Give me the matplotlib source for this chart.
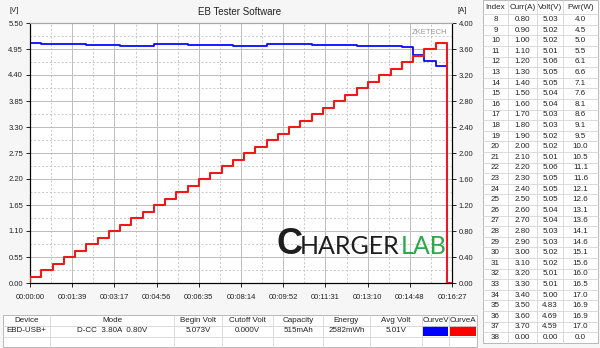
import numpy as np
import matplotlib.pyplot as plt
from matplotlib.lines import Line2D
from matplotlib.patches import Rectangle

plt.rcParams['font.family'] = ['Liberation Sans', 'DejaVu Sans']

# one value per load step (index 1..38)
current_a = [0.10, 0.20, 0.30, 0.40, 0.50, 0.60, 0.70, 0.80, 0.90, 1.00,
             1.10, 1.20, 1.30, 1.40, 1.50, 1.60, 1.70, 1.80, 1.90, 2.00,
             2.10, 2.20, 2.30, 2.40, 2.50, 2.60, 2.70, 2.80, 2.90, 3.00,
             3.10, 3.20, 3.30, 3.40, 3.50, 3.60, 3.70, 0.00]
voltage_v = [5.07, 5.06, 5.06, 5.05, 5.05, 5.04, 5.04, 5.03, 5.02, 5.02,
             5.01, 5.06, 5.05, 5.05, 5.04, 5.04, 5.03, 5.03, 5.02, 5.02,
             5.01, 5.06, 5.05, 5.05, 5.05, 5.04, 5.04, 5.03, 5.03, 5.02,
             5.02, 5.01, 5.01, 5.00, 4.83, 4.69, 4.59, 0.00]
# power column shown in the side table (index 8..38)
power_w = [4.0, 4.5, 5.0, 5.5, 6.1, 6.6, 7.1, 7.6, 8.1, 8.6, 9.1, 9.5, 10.0,
           10.5, 11.1, 11.6, 12.1, 12.6, 13.1, 13.6, 14.1, 14.6, 15.1, 15.6,
           16.0, 16.5, 17.0, 16.9, 16.9, 17.0, 0.0]
first_row = 8
step_sec = 26.35
total_sec = 987

x_labels = ['00:00:00', '00:01:39', '00:03:17', '00:04:56', '00:06:35', '00:08:14',
            '00:09:52', '00:11:31', '00:13:10', '00:14:48', '00:16:27']
v_ticks = [0.00, 0.55, 1.10, 1.65, 2.20, 2.75, 3.30, 3.85, 4.40, 4.95, 5.50]
a_ticks = [0.00, 0.40, 0.80, 1.20, 1.60, 2.00, 2.40, 2.80, 3.20, 3.60, 4.00]

info_head = ['Device', 'Mode', 'Begin Volt', 'Cutoff Volt', 'Capacity', 'Energy', 'Avg Volt', 'CurveV', 'CurveA']
info_vals = ['EBD-USB+', 'D-CC  3.80A  0.80V', '5.073V', '0.000V', '515mAh', '2582mWh', '5.01V', '', '']

W, H = 600, 348
fig = plt.figure(figsize=(6, 3.48), dpi=100, facecolor='#f6f6f6')

def fx(x):
    return x / W

def fy(y):
    return 1 - y / H

# ---- main chart
L, R, T, B = 30, 452, 23, 283
ax = fig.add_axes([fx(L), fy(B), (R - L) / W, (B - T) / H])
ax.set_facecolor('white')
ax2 = ax.twinx()

n = len(current_a)
starts = [i * step_sec for i in range(n)]
xs = [0] + starts + [total_sec]
amps = [0] + current_a + [current_a[-1]]
volts = [voltage_v[0]] + voltage_v + [voltage_v[-1]]

ax.plot(xs, volts, drawstyle='steps-post', color='#0a0aff', lw=1.3, zorder=3)
ax2.plot(xs, amps, drawstyle='steps-post', color='#f01818', lw=1.5, zorder=4)

xt = np.linspace(0, total_sec, len(x_labels))
ax.set_xlim(0, total_sec)
ax.set_ylim(0, 5.5)
ax2.set_ylim(0, 4.0)
ax.set_xticks(xt)
ax.set_xticklabels(x_labels)
ax.set_yticks(v_ticks)
ax.set_yticklabels(['%.2f' % v for v in v_ticks])
ax2.set_yticks(a_ticks)
ax2.set_yticklabels(['%.2f' % a for a in a_ticks])
ax.set_xticks((xt[:-1] + xt[1:]) / 2, minor=True)
ax.set_yticks([(v_ticks[i] + v_ticks[i + 1]) / 2 for i in range(len(v_ticks) - 1)], minor=True)
ax.tick_params(which='minor', length=0)
ax.tick_params(axis='both', which='major', labelsize=5.5, length=3, width=0.7, colors='#222222', pad=2)
ax.tick_params(axis='x', pad=5)
ax2.tick_params(axis='y', labelsize=5.5, length=3, width=0.7, colors='#222222', pad=2)
ax.grid(which='major', color='#bdbdbd', lw=0.7, ls='-')
ax.grid(which='minor', color='#c8c8c8', lw=0.7, ls=(0, (2, 2)))
ax.set_axisbelow(True)
ax.spines['top'].set_color('#a8a8a8')
ax2.spines['top'].set_color('#a8a8a8')
for a in (ax, ax2):
    for s in a.spines.values():
        s.set_linewidth(0.8)

fig.text(fx(240), fy(12), 'EB Tester Software', ha='center', va='center', fontsize=7, color='#222222')
fig.text(fx(14), fy(10), '[V]', ha='center', va='center', fontsize=5.5, color='#222222')
fig.text(fx(462), fy(10), '[A]', ha='center', va='center', fontsize=5.5, color='#222222')
fig.text(fx(447), fy(32), 'ZKETECH', ha='right', va='center', fontsize=5.5, color='#9a9a9a')

# ChargerLab mark
fig.text(fx(276), fy(245), 'C', ha='left', va='center', fontsize=26, color='#1e1e1e', fontweight='bold')
t1 = fig.text(fx(300), fy(246), 'HARGER', ha='left', va='center', fontsize=18, color='#1e1e1e',
              family=['Lato', 'DejaVu Sans'])
fig.canvas.draw()
bb = t1.get_window_extent()
fig.text(bb.x1 / W + 0.002, fy(246), 'LAB', ha='left', va='center', fontsize=18, color='#2aa84a',
         family=['Lato', 'DejaVu Sans'])

# ---- side table
cols = [483, 508, 537, 563, 598]
head_h, row_h = 14.2, 10.6
rows_y = [0, head_h] + [head_h + row_h * (i + 1) for i in range(len(power_w))]
fig.patches.append(Rectangle((fx(cols[0]), fy(rows_y[-1])), (cols[-1] - cols[0]) / W,
                             rows_y[-1] / H, transform=fig.transFigure,
                             facecolor='white', edgecolor='#b8b8b8', lw=0.7))
for y in rows_y[1:-1]:
    fig.lines.append(Line2D([fx(cols[0]), fx(cols[-1])], [fy(y), fy(y)],
                            transform=fig.transFigure, color='#d4d4d4', lw=0.6))
for x in cols[1:-1]:
    fig.lines.append(Line2D([fx(x), fx(x)], [fy(0), fy(rows_y[-1])],
                            transform=fig.transFigure, color='#d4d4d4', lw=0.6))
centers = [(cols[i] + cols[i + 1]) / 2 for i in range(4)]
for c, t in zip(centers, ['Index', 'Curr(A)', 'Volt(V)', 'Pwr(W)']):
    fig.text(fx(c), fy(head_h / 2), t, ha='center', va='center', fontsize=5.8, color='#222222')
for i, p in enumerate(power_w):
    k = first_row - 1 + i
    yc = head_h + row_h * (i + 0.5)
    vals = [str(k + 1), '%.2f' % current_a[k], '%.2f' % voltage_v[k], '%.1f' % p]
    for c, t in zip(centers, vals):
        fig.text(fx(c), fy(yc), t, ha='center', va='center', fontsize=5.8, color='#222222')

# ---- summary table
bcols = [3, 50, 174, 222, 273, 323, 370, 422, 449, 477]
brows = [315, 325.5, 336.5, 347]
fig.patches.append(Rectangle((fx(bcols[0]), fy(brows[-1])), (bcols[-1] - bcols[0]) / W,
                             (brows[-1] - brows[0]) / H, transform=fig.transFigure,
                             facecolor='white', edgecolor='#b8b8b8', lw=0.7))
for y in brows[1:-1]:
    fig.lines.append(Line2D([fx(bcols[0]), fx(bcols[-1])], [fy(y), fy(y)],
                            transform=fig.transFigure, color='#d4d4d4', lw=0.6))
for x in bcols[1:-1]:
    fig.lines.append(Line2D([fx(x), fx(x)], [fy(brows[0]), fy(brows[-1])],
                            transform=fig.transFigure, color='#d4d4d4', lw=0.6))
for j, col in zip([7, 8], ['#0000ff', '#ff0000']):
    fig.patches.append(Rectangle((fx(bcols[j] + 1), fy(brows[2] - 0.5)), (bcols[j + 1] - bcols[j] - 2) / W,
                                 (brows[2] - brows[1] - 1) / H, transform=fig.transFigure,
                                 facecolor=col, edgecolor='none'))
for j in range(len(info_head)):
    c = (bcols[j] + bcols[j + 1]) / 2
    fig.text(fx(c), fy((brows[0] + brows[1]) / 2), info_head[j], ha='center', va='center',
             fontsize=5.8, color='#222222')
    fig.text(fx(c), fy((brows[1] + brows[2]) / 2), info_vals[j], ha='center', va='center',
             fontsize=5.8, color='#222222')

fig.savefig('out.png', dpi=100, facecolor=fig.get_facecolor())
